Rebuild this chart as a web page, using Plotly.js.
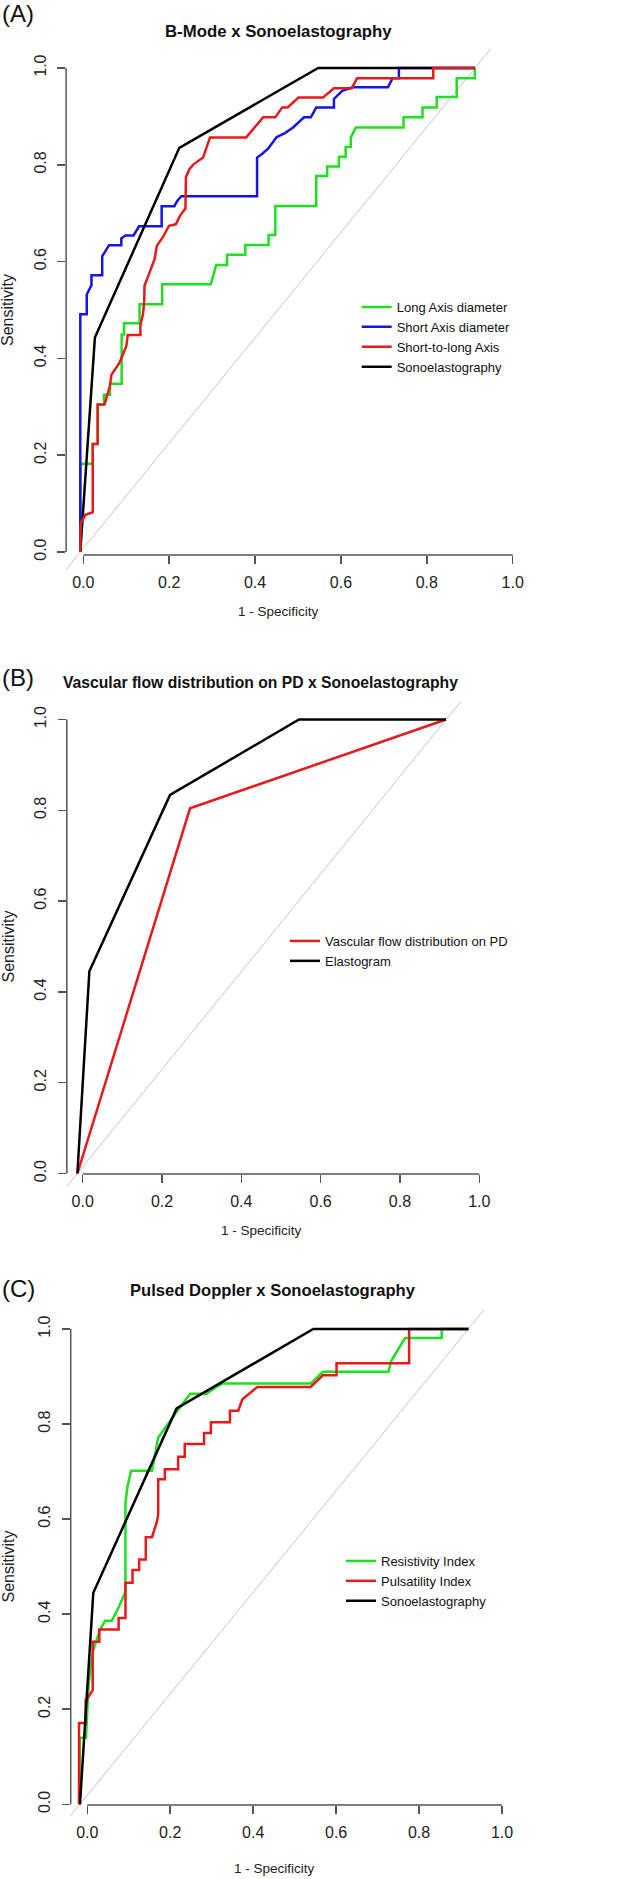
<!DOCTYPE html>
<html><head><meta charset="utf-8">
<script src="https://cdn.plot.ly/plotly-3.0.1.min.js"></script>
<style>html,body{margin:0;padding:0;background:#fff}#chart{width:640px;height:1879px}</style>
</head><body><div id="chart"></div>
<script>
// ---------------- data ----------------
const tickVals = [0, 0.2, 0.4, 0.6, 0.8, 1.0];
const tickText = ['0.0', '0.2', '0.4', '0.6', '0.8', '1.0'];

// (A) B-Mode x Sonoelastography
const longAxisX = [-0.007,-0.007,0.022,0.022,0.0335,0.0335,0.048,0.048,0.062,0.062,0.0893,0.0893,0.095,0.095,0.131,0.131,0.1837,0.1837,0.2968,0.3095,0.3349,0.3349,0.3774,0.3774,0.4314,0.4314,0.4472,0.4472,0.5425,0.5425,0.5679,0.5679,0.5952,0.5952,0.611,0.611,0.623,0.623,0.6346,0.7457,0.7457,0.790,0.790,0.823,0.823,0.8696,0.8696,0.912,0.912];
const longAxisY = [0,0.1825,0.1825,0.223,0.223,0.305,0.305,0.325,0.325,0.3476,0.3476,0.4495,0.4495,0.4724,0.4724,0.5117,0.5117,0.553,0.553,0.593,0.593,0.614,0.614,0.6345,0.6345,0.655,0.655,0.715,0.715,0.777,0.777,0.7966,0.7966,0.8166,0.8166,0.837,0.837,0.8566,0.877,0.877,0.898,0.898,0.9186,0.9186,0.94,0.94,0.979,0.979,1.0];

const shortAxisX = [-0.007,-0.007,0.008,0.008,0.019,0.019,0.044,0.044,0.060,0.0885,0.0885,0.098,0.117,0.130,0.1825,0.1825,0.212,0.2187,0.228,0.4047,0.4047,0.4155,0.431,0.450,0.4695,0.4885,0.514,0.530,0.5424,0.5837,0.5837,0.603,0.628,0.7095,0.720,0.735,0.735,0.912];
const shortAxisY = [0,0.491,0.491,0.532,0.551,0.572,0.572,0.611,0.634,0.634,0.648,0.654,0.654,0.673,0.673,0.7145,0.7145,0.7255,0.735,0.735,0.815,0.822,0.834,0.857,0.8655,0.877,0.898,0.898,0.9186,0.9186,0.936,0.953,0.960,0.960,0.9786,0.9786,1.0,1.0];

const ratioX = [-0.007,-0.006,0.005,0.022,0.022,0.0335,0.0335,0.0495,0.0527,0.062,0.0654,0.0844,0.1003,0.1035,0.133,0.133,0.139,0.142,0.1425,0.1489,0.157,0.166,0.171,0.187,0.1996,0.2155,0.225,0.2378,0.239,0.247,0.2567,0.279,0.295,0.3793,0.3996,0.4187,0.4472,0.4631,0.4758,0.5012,0.5583,0.5837,0.625,0.6376,0.815,0.815,0.912];
const ratioY = [0,0.059,0.077,0.082,0.223,0.223,0.305,0.305,0.315,0.343,0.366,0.391,0.4257,0.4485,0.4485,0.469,0.491,0.52,0.55,0.5634,0.584,0.605,0.632,0.653,0.674,0.677,0.6945,0.7097,0.774,0.791,0.801,0.815,0.8566,0.8566,0.877,0.898,0.898,0.9186,0.9186,0.939,0.939,0.958,0.958,0.9786,0.9786,1.0,1.0];

const sonoAX = [-0.007, 0.027, 0.2236, 0.547, 0.912];
const sonoAY = [0, 0.443, 0.835, 1.0, 1.0];

const diagAX = [-0.06, 0.96];
const diagAY = [-0.058, 1.052];

// (B) Vascular flow distribution on PD x Sonoelastography
const vascularX = [-0.0134, 0.2706, 0.916];
const vascularY = [0, 0.8044, 1.0];
const elastoX = [-0.0134, 0.0168, 0.2202, 0.5454, 0.916];
const elastoY = [0, 0.4455, 0.8337, 1.0, 1.0];
const diagBX = [-0.06, 0.96];
const diagBY = [-0.050, 1.047];

// (C) Pulsed Doppler x Sonoelastography
const resistX = [-0.018,-0.018,-0.003,0.003,0.013,0.030,0.043,0.059,0.076,0.092,0.092,0.0968,0.1055,0.156,0.171,0.179,0.2253,0.2484,0.288,0.311,0.3276,0.5385,0.548,0.568,0.7264,0.733,0.766,0.8545,0.8545,0.919];
const resistY = [0,0.14,0.14,0.25,0.32,0.366,0.386,0.386,0.415,0.447,0.633,0.668,0.702,0.702,0.772,0.781,0.8375,0.864,0.864,0.878,0.8855,0.8855,0.893,0.910,0.910,0.933,0.981,0.981,1.0,1.0];

const pulsX = [-0.020,-0.020,-0.004,-0.004,0.0,0.013,0.013,0.029,0.029,0.0755,0.0755,0.092,0.092,0.109,0.109,0.125,0.125,0.141,0.141,0.156,0.168,0.171,0.171,0.187,0.187,0.219,0.219,0.235,0.235,0.2815,0.2815,0.298,0.298,0.344,0.344,0.364,0.374,0.390,0.410,0.5385,0.568,0.601,0.601,0.776,0.776,0.919];
const pulsY = [0,0.171,0.171,0.22,0.222,0.24,0.342,0.342,0.368,0.368,0.392,0.392,0.466,0.466,0.493,0.493,0.515,0.515,0.562,0.562,0.595,0.61,0.684,0.684,0.705,0.705,0.731,0.731,0.758,0.758,0.781,0.781,0.804,0.804,0.828,0.828,0.852,0.864,0.878,0.878,0.9025,0.9025,0.928,0.928,1.0,1.0];

const sonoCX = [-0.0177, 0.0145, 0.2154, 0.545, 0.919];
const sonoCY = [0, 0.445, 0.833, 1.0, 1.0];
const diagCX = [-0.06, 0.96];
const diagCY = [-0.045, 1.044];

// ---------------- styling / geometry ----------------
const W = 640, H = 1879, PAD = 0.04;
const GREEN = '#1ee01e', BLUE = '#1414e6', RED = '#e61a1a', BLACK = '#000000', DIAG = '#c4c4c4';
const SANS = '"Liberation Sans", Arial, Helvetica, sans-serif';
const AXC = '#555555';

// pixel positions of data 0 and 1 on each panel, and the x-axis line
const panels = [
  {x0: 83.3, x1: 512.7, y0: 552.0, y1: 68.0, xLine: 555.0},
  {x0: 82.7, x1: 479.3, y0: 1173.5, y1: 719.5, xLine: 1174.0},
  {x0: 87.3, x1: 502.0, y0: 1804.3, y1: 1329.0, xLine: 1805.0}
];

const layout = {
  width: W, height: H,
  margin: {l: 0, r: 0, t: 0, b: 0, pad: 0, autoexpand: false},
  paper_bgcolor: '#ffffff', plot_bgcolor: 'rgba(0,0,0,0)',
  showlegend: true,
  shapes: [], annotations: []
};

panels.forEach((p, i) => {
  const n = i === 0 ? '' : String(i + 1);
  const sx = p.x1 - p.x0, sy = p.y0 - p.y1;
  const left = p.x0 - PAD * sx, right = p.x1 + PAD * sx;
  const bottom = p.y0 + PAD * sy, top = p.y1 - PAD * sy;
  const xdom = [left / W, right / W];
  const ydom = [1 - bottom / H, 1 - top / H];
  const xpos = 1 - p.xLine / H;
  const common = {
    range: [-PAD, 1 + PAD], tickvals: tickVals, ticktext: tickText,
    ticks: 'outside', ticklen: 8, tickwidth: 1.5, tickcolor: AXC,
    tickfont: {family: SANS, size: 16, color: '#222'},
    showgrid: false, zeroline: false, showline: false, fixedrange: true
  };
  layout['xaxis' + n] = Object.assign({}, common, {domain: xdom, anchor: 'free', position: xpos, ticklabelstandoff: 5});
  layout['yaxis' + n] = Object.assign({}, common, {domain: ydom, anchor: 'x' + n, tickangle: -90, ticklabelstandoff: 5});
  // R-style axis lines spanning only 0..1
  layout.shapes.push({type: 'line', xref: 'x' + n, yref: 'paper', x0: 0, x1: 1, y0: xpos, y1: xpos, line: {color: AXC, width: 1.5}});
  layout.shapes.push({type: 'line', xref: 'paper', yref: 'y' + n, x0: xdom[0], x1: xdom[0], y0: 0, y1: 1, line: {color: AXC, width: 1.5}});
});

function ann(text, xpx, ypx, font, extra) {
  return Object.assign({text: text, xref: 'paper', yref: 'paper', x: xpx / W, y: 1 - ypx / H,
    xanchor: 'center', yanchor: 'middle', showarrow: false, font: font}, extra || {});
}
function titleFont(size) { return {family: SANS, size: size, color: '#111', weight: 700}; }
const labFont = {family: SANS, size: 13.5, color: '#222'};
const yLabFont = {family: SANS, size: 16, color: '#222'};
const tagFont = {family: SANS, size: 24, color: '#111'};

layout.annotations.push(
  ann('(A)', 0, 14, tagFont, {xanchor: 'left'}),
  ann('B-Mode x Sonoelastography', 278, 31, titleFont(16.8)),
  ann('1 - Specificity', 278.3, 611.7, labFont),
  ann('Sensitivity', 8, 310, yLabFont, {textangle: -90}),
  ann('(B)', 0, 677, tagFont, {xanchor: 'left'}),
  ann('Vascular flow distribution on PD x Sonoelastography', 260.7, 683, titleFont(15.7)),
  ann('1 - Specificity', 261.3, 1230.7, labFont),
  ann('Sensitivity', 8, 946.5, yLabFont, {textangle: -90}),
  ann('(C)', 0, 1288, tagFont, {xanchor: 'left'}),
  ann('Pulsed Doppler x Sonoelastography', 273.3, 1290, titleFont(16.6)),
  ann('1 - Specificity', 274.3, 1868.3, labFont),
  ann('Sensitivity', 8, 1566.5, yLabFont, {textangle: -90})
);

const legFont = {family: SANS, size: 13, color: '#111'};
function legendAt(xpx, ypx) {
  return {x: xpx / W, y: 1 - ypx / H, xanchor: 'left', yanchor: 'top', bgcolor: 'rgba(0,0,0,0)',
    borderwidth: 0, font: legFont, itemwidth: 30, traceorder: 'normal', itemclick: false, itemdoubleclick: false};
}
layout.legend = legendAt(356.7, 292);
layout.legend2 = legendAt(285, 926);
layout.legend3 = legendAt(341, 1546);

function line(x, y, color, name, xa, ya, leg, rank, w) {
  return {type: 'scatter', mode: 'lines', x: x, y: y, name: name, xaxis: xa, yaxis: ya,
    line: {color: color, width: w || 2.5, shape: 'linear'}, legend: leg, legendrank: rank,
    showlegend: !!name, hoverinfo: name ? 'x+y+name' : 'skip'};
}

const data = [
  // panel A
  line(diagAX, diagAY, DIAG, '', 'x', 'y', 'legend', 0, 1),
  line(longAxisX, longAxisY, GREEN, 'Long Axis diameter', 'x', 'y', 'legend', 1),
  line(shortAxisX, shortAxisY, BLUE, 'Short Axis diameter', 'x', 'y', 'legend', 2),
  line(sonoAX, sonoAY, BLACK, 'Sonoelastography', 'x', 'y', 'legend', 4),
  line(ratioX, ratioY, RED, 'Short-to-long Axis', 'x', 'y', 'legend', 3),
  // panel B
  line(diagBX, diagBY, DIAG, '', 'x2', 'y2', 'legend2', 0, 1),
  line(vascularX, vascularY, RED, 'Vascular flow distribution on PD', 'x2', 'y2', 'legend2', 1),
  line(elastoX, elastoY, BLACK, 'Elastogram', 'x2', 'y2', 'legend2', 2),
  // panel C
  line(diagCX, diagCY, DIAG, '', 'x3', 'y3', 'legend3', 0, 1),
  line(resistX, resistY, GREEN, 'Resistivity Index', 'x3', 'y3', 'legend3', 1),
  line(pulsX, pulsY, RED, 'Pulsatility Index', 'x3', 'y3', 'legend3', 2),
  line(sonoCX, sonoCY, BLACK, 'Sonoelastography', 'x3', 'y3', 'legend3', 3)
];

Plotly.newPlot('chart', data, layout, {displayModeBar: false, staticPlot: true});
</script>
</body></html>
